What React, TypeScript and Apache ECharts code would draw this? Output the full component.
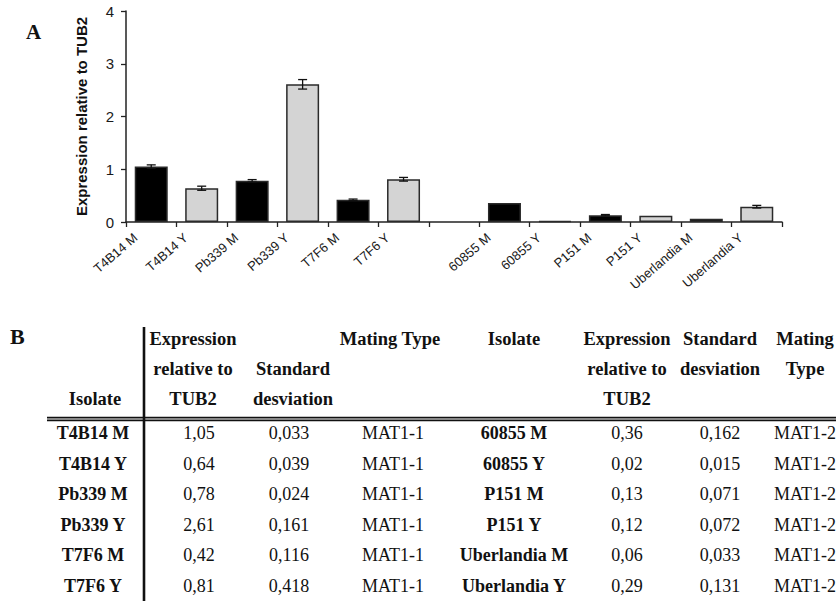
import React, { useEffect, useRef } from 'react';
import * as echarts from 'echarts';

// ---------- Panel A data ----------
const categories = ['T4B14 M', 'T4B14 Y', 'Pb339 M', 'Pb339 Y', 'T7F6 M', 'T7F6 Y', '', '60855 M', '60855 Y', 'P151 M', 'P151 Y', 'Uberlandia M', 'Uberlandia Y'];
const expression: (number | null)[] = [1.05, 0.64, 0.78, 2.61, 0.42, 0.81, null, 0.36, 0.02, 0.13, 0.12, 0.06, 0.29];
const errorBars: (number | null)[] = [0.033, 0.039, 0.024, 0.09, 0.015, 0.035, null, 0, 0, 0.012, 0, 0, 0.025];
const barGroup = ['M', 'Y', 'M', 'Y', 'M', 'Y', '', 'M', 'Y', 'M', 'Y', 'M', 'Y'];
const yAxisTitle = 'Expression relative to TUB2';

// ---------- Panel B data ----------
const isolatesLeft = ['T4B14 M', 'T4B14 Y', 'Pb339 M', 'Pb339 Y', 'T7F6 M', 'T7F6 Y'];
const exprLeft = ['1,05', '0,64', '0,78', '2,61', '0,42', '0,81'];
const sdLeft = ['0,033', '0,039', '0,024', '0,161', '0,116', '0,418'];
const matingLeft = ['MAT1-1', 'MAT1-1', 'MAT1-1', 'MAT1-1', 'MAT1-1', 'MAT1-1'];
const isolatesRight = ['60855 M', '60855 Y', 'P151 M', 'P151 Y', 'Uberlandia M', 'Uberlandia Y'];
const exprRight = ['0,36', '0,02', '0,13', '0,12', '0,06', '0,29'];
const sdRight = ['0,162', '0,015', '0,071', '0,072', '0,033', '0,131'];
const matingRight = ['MAT1-2', 'MAT1-2', 'MAT1-2', 'MAT1-2', 'MAT1-2', 'MAT1-2'];

const tableHeaders: string[][] = [
  ['', '', 'Isolate'],
  ['Expression', 'relative to', 'TUB2'],
  ['', 'Standard', 'desviation'],
  ['Mating Type', '', ''],
  ['Isolate', '', ''],
  ['Expression', 'relative to', 'TUB2'],
  ['Standard', 'desviation', ''],
  ['Mating', 'Type', ''],
];

// layout for table (pixels)
const headerX = [95, 193, 293, 390, 514, 627, 720, 805];
const dataX = [93, 199, 289, 393, 514, 627, 720, 805];
const headerY = [339, 369, 399];
const rowY0 = 433;
const rowStep = 30.5;

const SERIF = '"Liberation Serif", "Times New Roman", serif';
const SANS = '"Liberation Sans", Arial, sans-serif';

function buildTableGraphics(): any[] {
  const els: any[] = [];
  const columns = [isolatesLeft, exprLeft, sdLeft, matingLeft, isolatesRight, exprRight, sdRight, matingRight];
  const boldCols = [0, 4];
  tableHeaders.forEach((lines, c) => {
    lines.forEach((t, r) => {
      if (!t) return;
      els.push({
        type: 'text',
        x: headerX[c],
        y: headerY[r],
        style: { text: t, fill: '#111', font: `bold 18.5px ${SERIF}`, align: 'center', verticalAlign: 'middle' },
      });
    });
  });
  columns.forEach((col, c) => {
    col.forEach((t, r) => {
      els.push({
        type: 'text',
        x: dataX[c],
        y: rowY0 + r * rowStep,
        style: {
          text: t,
          fill: '#111',
          font: `${boldCols.includes(c) ? 'bold ' : ''}18px ${SERIF}`,
          align: 'center',
          verticalAlign: 'middle',
        },
      });
    });
  });
  // lines
  els.push({ type: 'line', shape: { x1: 144, y1: 327, x2: 144, y2: 601 }, style: { stroke: '#111', lineWidth: 2.6 } });
  els.push({ type: 'line', shape: { x1: 47, y1: 417.6, x2: 836, y2: 417.6 }, style: { stroke: '#111', lineWidth: 1.6 } });
  els.push({ type: 'line', shape: { x1: 47, y1: 420.4, x2: 836, y2: 420.4 }, style: { stroke: '#111', lineWidth: 1.6 } });
  // panel letters
  els.push({ type: 'text', x: 26, y: 32, style: { text: 'A', fill: '#111', font: `bold 21px ${SERIF}`, align: 'left', verticalAlign: 'middle' } });
  els.push({ type: 'text', x: 10, y: 336, style: { text: 'B', fill: '#111', font: `bold 22px ${SERIF}`, align: 'left', verticalAlign: 'middle' } });
  return els;
}

export default function App() {
  const ref = useRef<HTMLDivElement>(null);
  useEffect(() => {
    document.body.style.margin = '0';
    if (!ref.current) return;
    const chart = echarts.init(ref.current, undefined, { renderer: 'svg' });
    const barData = expression.map((v, i) =>
      v == null
        ? '-'
        : {
            value: v,
            itemStyle: {
              color: barGroup[i] === 'M' ? '#000000' : '#d4d4d4',
              borderColor: '#2a2a2a',
              borderWidth: 1.5,
            },
          }
    );
    const errData: any[] = [];
    expression.forEach((v, i) => {
      const e = errorBars[i];
      if (v != null && e != null && e > 0) errData.push([i, v, e]);
    });
    chart.setOption({
      animation: false,
      backgroundColor: '#ffffff',
      grid: { left: 126, right: 54, top: 11, bottom: 379, containLabel: false },
      xAxis: {
        type: 'category',
        data: categories,
        boundaryGap: true,
        axisLine: { show: true, lineStyle: { color: '#222', width: 1.5 } },
        axisTick: { show: true, interval: 0, length: 5, lineStyle: { color: '#222', width: 1.3 } },
        axisLabel: {
          interval: 0,
          rotate: 41,
          margin: 0,
          padding: [0, 21, 0, 0],
          color: '#1a1a1a',
          fontSize: 13,
          fontFamily: SANS,
        },
        splitLine: { show: false },
      },
      yAxis: {
        type: 'value',
        min: 0,
        max: 4,
        interval: 1,
        name: yAxisTitle,
        nameLocation: 'middle',
        nameGap: 37,
        nameRotate: 90,
        nameTextStyle: { color: '#111', fontSize: 15, fontWeight: 'bold', fontFamily: SANS },
        axisLine: { show: true, lineStyle: { color: '#222', width: 1.5 } },
        axisTick: { show: true, length: 5, lineStyle: { color: '#222', width: 1.3 } },
        axisLabel: { margin: 12, color: '#1a1a1a', fontSize: 15, fontFamily: SANS },
        splitLine: { show: false },
      },
      series: [
        {
          type: 'bar',
          data: barData,
          barWidth: 33,
          z: 2,
        },
        {
          type: 'custom',
          data: errData,
          encode: { x: 0, y: 1 },
          z: 5,
          renderItem: (params: any, api: any) => {
            const i = api.value(0);
            const v = api.value(1);
            const e = api.value(2);
            const top = api.coord([i, v + e]);
            const bot = api.coord([i, v - e]);
            const hw = 4.5;
            const st = { stroke: '#111', lineWidth: 1.3 };
            return {
              type: 'group',
              children: [
                { type: 'line', shape: { x1: top[0], y1: top[1], x2: bot[0], y2: bot[1] }, style: st },
                { type: 'line', shape: { x1: top[0] - hw, y1: top[1], x2: top[0] + hw, y2: top[1] }, style: st },
                { type: 'line', shape: { x1: bot[0] - hw, y1: bot[1], x2: bot[0] + hw, y2: bot[1] }, style: st },
              ],
            };
          },
        },
      ],
      graphic: buildTableGraphics(),
    });
    return () => chart.dispose();
  }, []);
  return <div ref={ref} style={{ width: 836, height: 601 }} />;
}
